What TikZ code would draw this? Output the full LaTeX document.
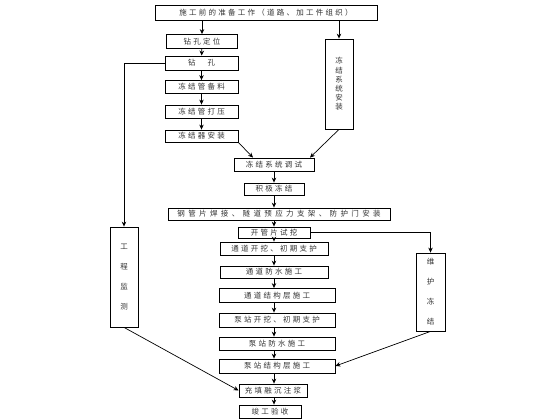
\documentclass[tikz,border=0pt]{standalone}
\usepackage{fontspec}
\newfontfamily\cjk[LetterSpace=30]{Noto Sans CJK SC}
\newfontfamily\cjkwide[LetterSpace=45]{Noto Sans CJK SC}
\usetikzlibrary{arrows.meta}
\begin{document}
\begin{tikzpicture}[x=1pt,y=-1pt,
  box/.style={draw=black,line width=0.8pt,fill=white,inner sep=0pt,font=\cjk\fontsize{7.5}{9}\selectfont,text=black!80},
  vbox/.style={box,align=center},
  arr/.style={line width=0.7pt,-{Stealth[length=5pt,width=4.5pt]}},
  ln/.style={line width=0.7pt}]
\useasboundingbox (0,0) rectangle (560,420);
% top column
\node[box,minimum width=222pt,minimum height=15pt] (top) at (266,12.5) {施工前的准备工作（道路、加工件组织）};
\node[box,minimum width=71pt,minimum height=14pt] (zkdw) at (202,41.5) {钻孔定位};
\node[box,minimum width=73pt,minimum height=14pt] (zk) at (201.5,63) {钻　孔};
\node[box,minimum width=73pt,minimum height=13pt] (djgbl) at (201.5,87) {冻结管备料};
\node[box,minimum width=73pt,minimum height=13pt] (djgdy) at (201.5,111.5) {冻结管打压};
\node[box,minimum width=73pt,minimum height=12pt] (djq) at (201.5,136) {冻结器安装};
\node[vbox,minimum width=28pt,minimum height=90pt,font=\cjk\fontsize{7.5}{9.2}\selectfont] (lxt) at (339,84) {冻\\结\\系\\统\\安\\装};
% middle column
\node[box,minimum width=80pt,minimum height=13pt] (dtjs) at (274,164.5) {冻结系统调试};
\node[box,minimum width=60pt,minimum height=12pt] (jj) at (274,189) {积极冻结};
\node[box,minimum width=222pt,minimum height=12pt,font=\cjkwide\fontsize{7.5}{9}\selectfont] (ggp) at (279,214) {钢管片焊接、隧道预应力支架、防护门安装};
\node[box,minimum width=72pt,minimum height=11pt] (kgp) at (274,232.5) {开管片试挖};
\node[box,minimum width=108pt,minimum height=13pt] (tdkw) at (274,248.5) {通道开挖、初期支护};
\node[box,minimum width=108pt,minimum height=12pt] (tdfs) at (274,272) {通道防水施工};
\node[box,minimum width=116pt,minimum height=14pt] (tdjg) at (277,295.5) {通道结构层施工};
\node[box,minimum width=116pt,minimum height=14pt] (bzkw) at (277,320) {泵站开挖、初期支护};
\node[box,minimum width=116pt,minimum height=13pt] (bzfs) at (277,343.5) {泵站防水施工};
\node[box,minimum width=116pt,minimum height=14pt] (bzjg) at (277,366) {泵站结构层施工};
\node[box,minimum width=68pt,minimum height=13pt] (ctzj) at (273,390.5) {充填融沉注浆};
\node[box,minimum width=62pt,minimum height=13pt] (jgys) at (270,411.5) {竣工验收};
% side boxes
\node[vbox,minimum width=28pt,minimum height=100pt,font=\cjk\fontsize{7.5}{20}\selectfont] (gcjc) at (124,277) {工\\程\\监\\测};
\node[vbox,minimum width=29pt,minimum height=78pt,font=\cjk\fontsize{7.5}{20}\selectfont] (whdj) at (430.5,292) {维\\护\\冻\\结};
% connectors
\draw[arr] (zkdw.north |- top.south) -- (zkdw.north);
\draw[arr] (lxt.north |- top.south) -- (lxt.north);
\draw[arr] (zkdw) -- (zk);
\draw[arr] (zk) -- (djgbl);
\draw[arr] (djgbl) -- (djgdy);
\draw[arr] (djgdy) -- (djq);
\draw[arr] (djq.south east) -- ([xshift=-21pt]dtjs.north);
\draw[arr] (lxt.south) -- ([xshift=36pt]dtjs.north);
\draw[arr] (dtjs) -- (jj);
\draw[arr] (jj.south) -- (jj.south |- ggp.north);
\draw[arr] (kgp.north |- ggp.south) -- (kgp.north);
\draw[arr] (kgp) -- (tdkw);
\draw[arr] (tdkw) -- (tdfs);
\draw[arr] (tdfs.south) -- (tdfs.south |- tdjg.north);
\draw[arr] (tdfs.south |- tdjg.south) -- (tdfs.south |- bzkw.north);
\draw[arr] (tdfs.south |- bzkw.south) -- (tdfs.south |- bzfs.north);
\draw[arr] (tdfs.south |- bzfs.south) -- (tdfs.south |- bzjg.north);
\draw[arr] (tdfs.south |- bzjg.south) -- (tdfs.south |- ctzj.north);
\draw[arr] (tdfs.south |- ctzj.south) -- (tdfs.south |- jgys.north);
\draw[arr] (zk.west) -- (zk.west -| gcjc.north) -- (gcjc.north);
\draw[arr] (gcjc.south) -- (ctzj.west);
\draw[arr] (kgp.east) -| (whdj.north);
\draw[arr] (whdj.south) -- (bzjg.east);
\end{tikzpicture}
\end{document}
